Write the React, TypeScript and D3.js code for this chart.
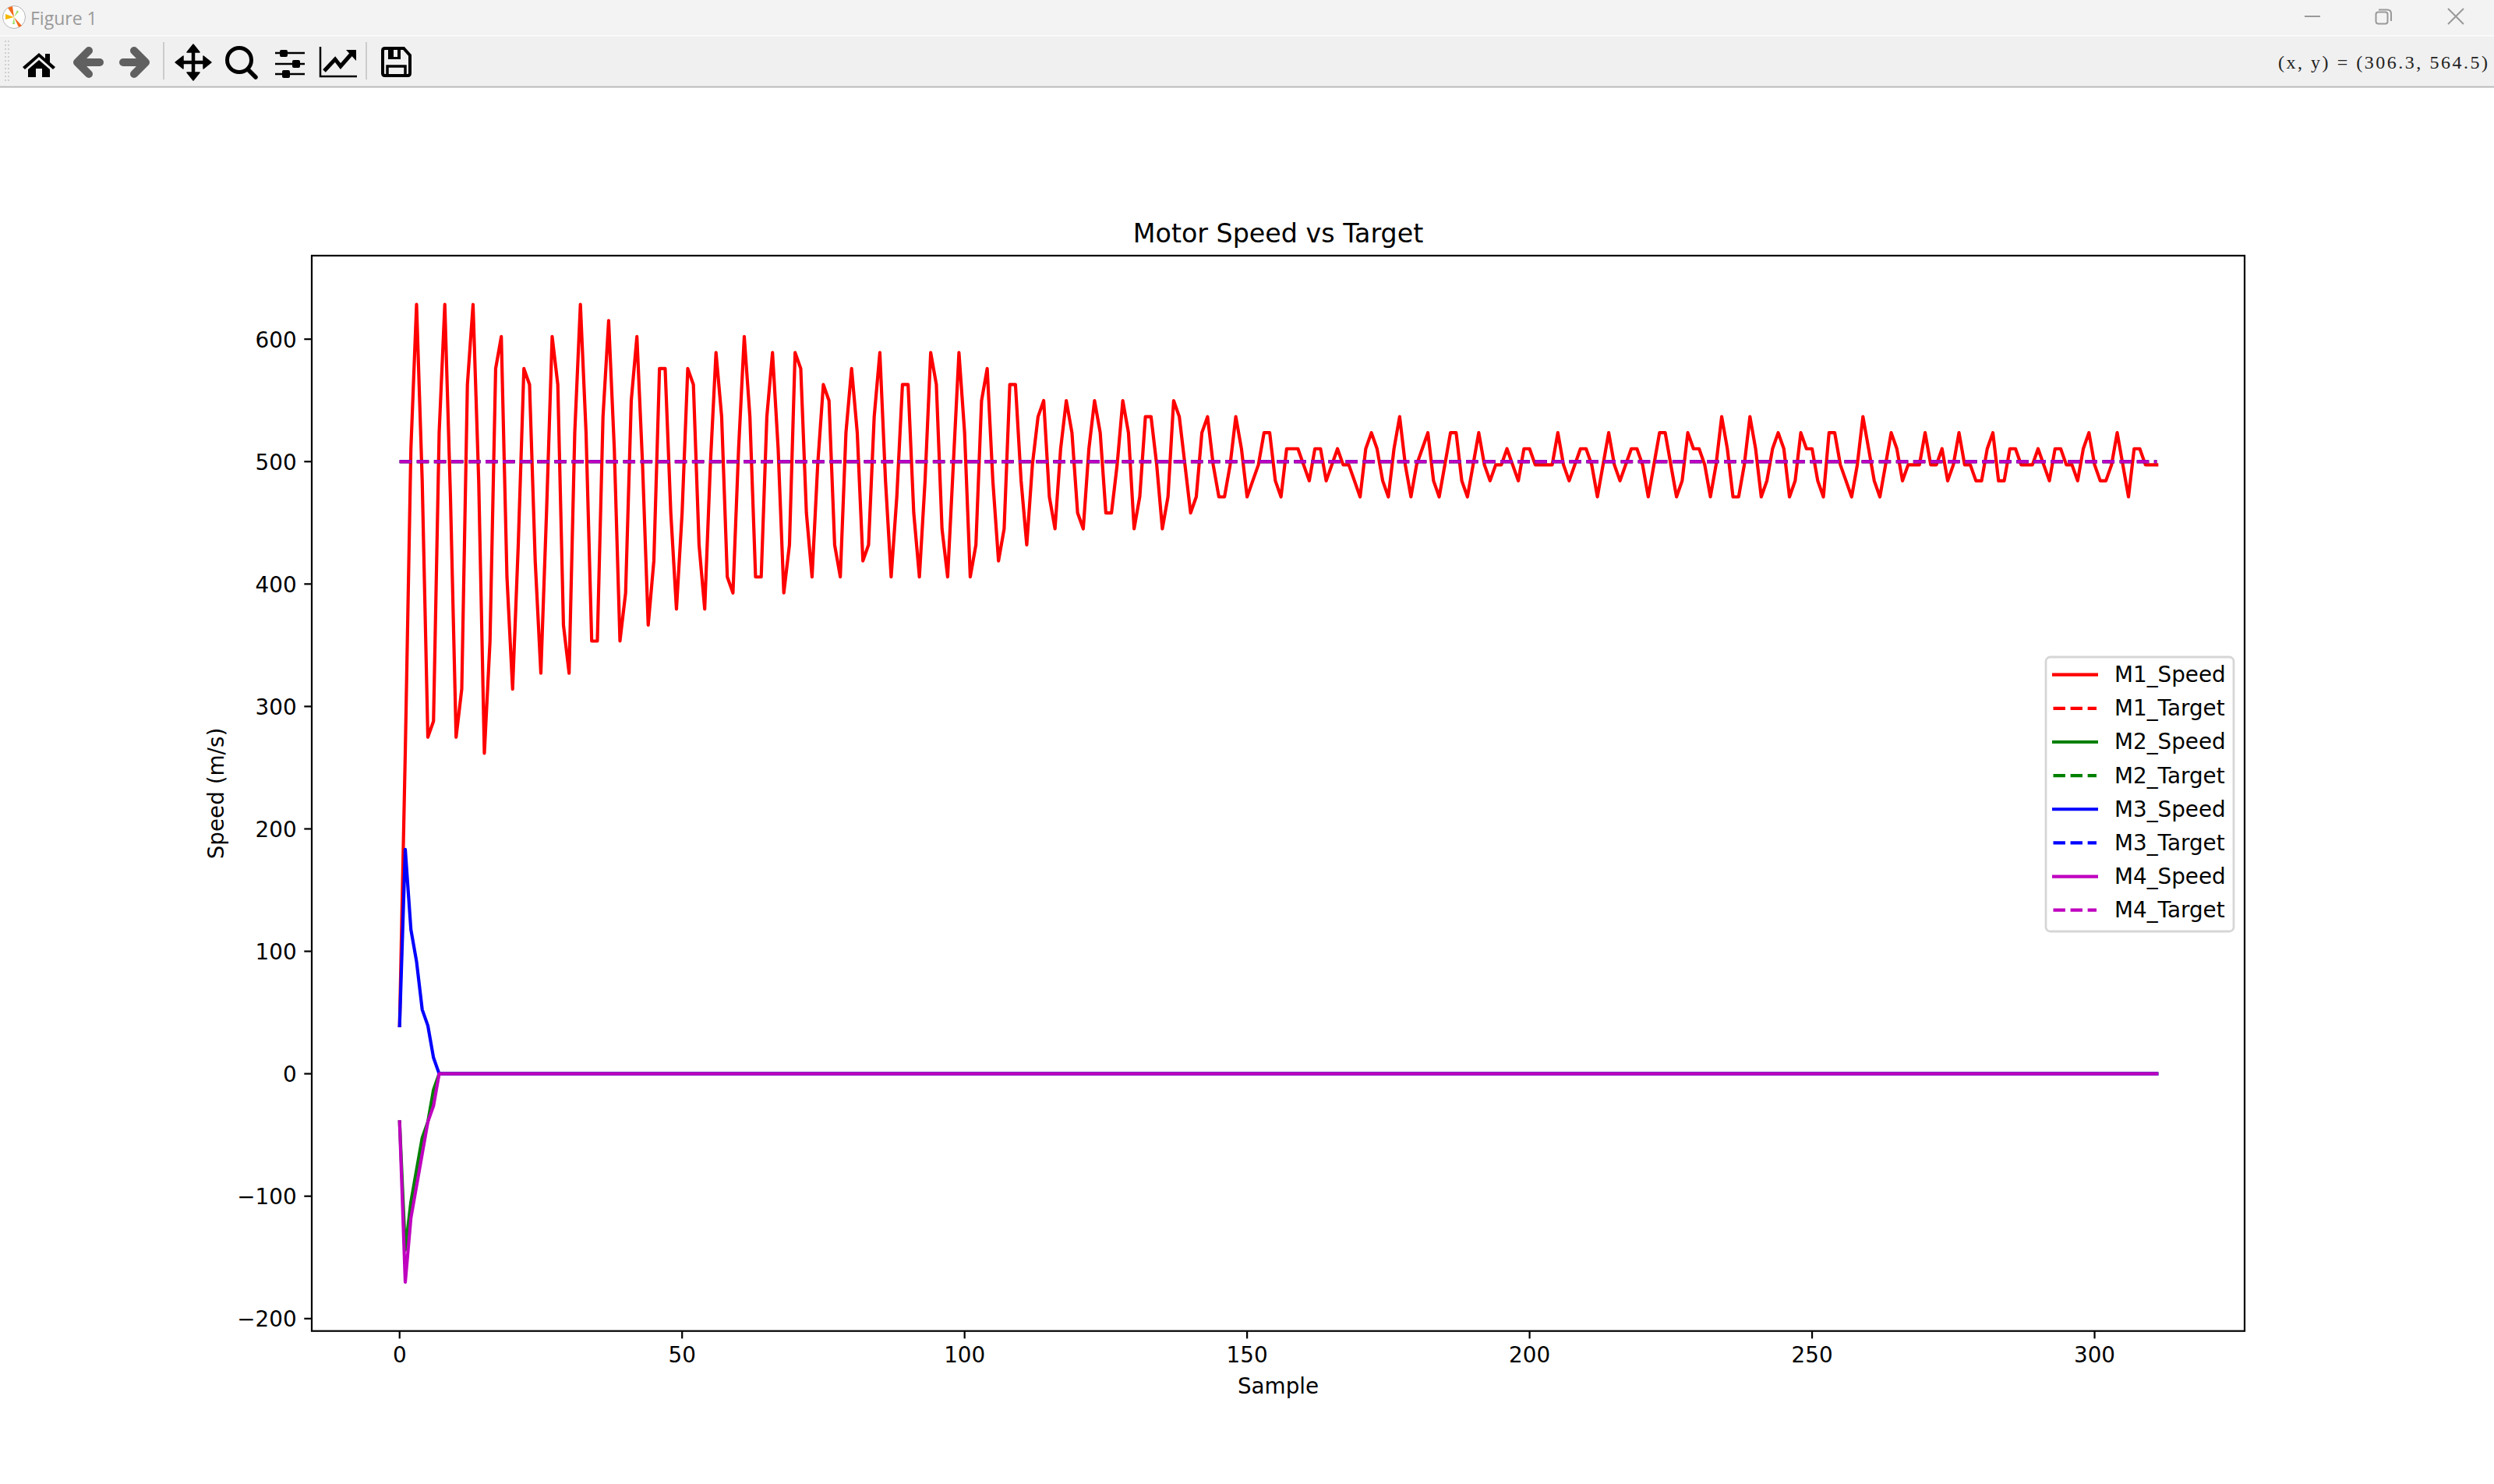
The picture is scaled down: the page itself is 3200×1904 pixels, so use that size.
import { useEffect, useRef } from "react";
import * as d3 from "d3";

const m1Speed = [
  39.3, 261.8, 510.5, 628.3, 484.3, 274.9, 288.0, 523.6, 628.3, 471.2,
  274.9, 314.2, 562.9, 628.3, 484.3, 261.8, 353.4, 576.0, 602.1, 405.8,
  314.2, 432.0, 576.0, 562.9, 418.9, 327.2, 458.1, 602.1, 562.9, 366.5,
  327.2, 523.6, 628.3, 523.6, 353.4, 353.4, 536.7, 615.2, 510.5, 353.4,
  392.7, 549.8, 602.1, 497.4, 366.5, 418.9, 576.0, 576.0, 458.1, 379.6,
  458.1, 576.0, 562.9, 432.0, 379.6, 497.4, 589.0, 536.7, 405.8, 392.7,
  510.5, 602.1, 536.7, 405.8, 405.8, 536.7, 589.0, 510.5, 392.7, 432.0,
  589.0, 576.0, 458.1, 405.8, 497.4, 562.9, 549.8, 432.0, 405.8, 523.6,
  576.0, 523.6, 418.9, 432.0, 536.7, 589.0, 484.3, 405.8, 471.2, 562.9,
  562.9, 458.1, 405.8, 484.3, 589.0, 562.9, 445.1, 405.8, 497.4, 589.0,
  523.6, 405.8, 432.0, 549.8, 576.0, 484.3, 418.9, 445.1, 562.9, 562.9,
  484.3, 432.0, 497.4, 536.7, 549.8, 471.2, 445.1, 510.5, 549.8, 523.6,
  458.1, 445.1, 510.5, 549.8, 523.6, 458.1, 458.1, 497.4, 549.8, 523.6,
  445.1, 471.2, 536.7, 536.7, 497.4, 445.1, 471.2, 549.8, 536.7, 497.4,
  458.1, 471.2, 523.6, 536.7, 497.4, 471.2, 471.2, 497.4, 536.7, 510.5,
  471.2, 484.3, 497.4, 523.6, 523.6, 484.3, 471.2, 510.5, 510.5, 510.5,
  497.4, 484.3, 510.5, 510.5, 484.3, 497.4, 510.5, 497.4, 497.4, 484.3,
  471.2, 510.5, 523.6, 510.5, 484.3, 471.2, 510.5, 536.7, 497.4, 471.2,
  497.4, 510.5, 523.6, 484.3, 471.2, 497.4, 523.6, 523.6, 484.3, 471.2,
  497.4, 523.6, 497.4, 484.3, 497.4, 497.4, 510.5, 497.4, 484.3, 510.5,
  510.5, 497.4, 497.4, 497.4, 497.4, 523.6, 497.4, 484.3, 497.4, 510.5,
  510.5, 497.4, 471.2, 497.4, 523.6, 497.4, 484.3, 497.4, 510.5, 510.5,
  497.4, 471.2, 497.4, 523.6, 523.6, 497.4, 471.2, 484.3, 523.6, 510.5,
  510.5, 497.4, 471.2, 497.4, 536.7, 510.5, 471.2, 471.2, 497.4, 536.7,
  510.5, 471.2, 484.3, 510.5, 523.6, 510.5, 471.2, 484.3, 523.6, 510.5,
  510.5, 484.3, 471.2, 523.6, 523.6, 497.4, 484.3, 471.2, 497.4, 536.7,
  510.5, 484.3, 471.2, 497.4, 523.6, 510.5, 484.3, 497.4, 497.4, 497.4,
  523.6, 497.4, 497.4, 510.5, 484.3, 497.4, 523.6, 497.4, 497.4, 484.3,
  484.3, 510.5, 523.6, 484.3, 484.3, 510.5, 510.5, 497.4, 497.4, 497.4,
  510.5, 497.4, 484.3, 510.5, 510.5, 497.4, 497.4, 484.3, 510.5, 523.6,
  497.4, 484.3, 484.3, 497.4, 523.6, 497.4, 471.2, 510.5, 510.5, 497.4, 497.4, 497.4
];

// the other three motors stop at sample 7 and stay at zero to the end
const stopSamples = [0, 1, 2, 3, 4, 5, 6, 7, 311];
const m2Speed = [-39.3, -144.0, -104.7, -78.5, -52.4, -39.3, -13.1, 0, 0];
const m3Speed = [39.3, 183.3, 117.8, 91.6, 52.4, 39.3, 13.1, 0, 0];
const m4Speed = [-39.3, -170.2, -117.8, -91.6, -65.4, -39.3, -26.2, 0, 0];

const targetSamples = [0, 311];
const targetSpeed = [500, 500];

const xTicks = [0, 50, 100, 150, 200, 250, 300];
const yTicks = [-200, -100, 0, 100, 200, 300, 400, 500, 600];

const seriesNames = ["M1_Speed", "M1_Target", "M2_Speed", "M2_Target", "M3_Speed", "M3_Target", "M4_Speed", "M4_Target"];
const seriesColors = ["#ff0000", "#ff0000", "#008000", "#008000", "#0000ff", "#0000ff", "#bf00bf", "#bf00bf"];

const FONT = "'DejaVu Sans'";
const LW = 4.17;
const DASH = "15.4 6.67";

function Toolbar() {
  const ink = "#000";
  const grey = "#606060";
  return (
    <g>
      <rect x={0} y={0} width={3200} height={45} fill="#f3f3f3" />
      <rect x={0} y={45} width={3200} height={1.5} fill="#fbfbfb" />
      <rect x={0} y={46.5} width={3200} height={64} fill="#f0f0f0" />
      <rect x={0} y={110.5} width={3200} height={2} fill="#b9b9b9" />

      {/* app logo */}
      <circle cx={18} cy={22} r={14.5} fill="#fff" stroke="#b5b5b5" strokeWidth={1} />
      <path d="M18 22 L10 10 L16 8 Z M18 22 L28 33 L24 35 Z" fill="#f26a1b" />
      <path d="M18 22 L7 18 L7 25 Z" fill="#f5b800" />
      <path d="M18 22 L22 13 L24 15 Z M18 22 L16 31 L19 31 Z" fill="#9be26b" />
      <text x={39} y={32} fontFamily="'Open Sans'" fontSize={23} fill="#9a9a9a">Figure 1</text>

      {/* window buttons */}
      <rect x={2957} y={20} width={20} height={2} fill="#999" />
      <rect x={3048.5} y={15.5} width={15} height={15} rx={3} fill="none" stroke="#999" strokeWidth={2} />
      <path d="M3052 12.5 H3063 Q3068 12.5 3068 17.5 V27" fill="none" stroke="#999" strokeWidth={2} />
      <path d="M3141 11 L3161 31 M3161 11 L3141 31" stroke="#999" strokeWidth={2} />

      {/* gripper */}
      <path d="M7 52 V105 M11 52 V105" stroke="#cfcfcf" strokeWidth={2} strokeDasharray="2 3" />

      {/* home */}
      <path d="M29 86 L50 68 L58 75 V69 H64 V80 L71 86 L68 89 L50 73 L32 89 Z" fill={ink} />
      <path d="M36 89 L50 77 L64 89 V99 H54 V88 H46 V99 H36 Z" fill={ink} />
      {/* back, forward */}
      <path d="M128 80 H100 M114 65 L99 80 L114 95" fill="none" stroke={grey} strokeWidth={10} strokeLinecap="round" strokeLinejoin="round" />
      <path d="M158 80 H186 M172 65 L187 80 L172 95" fill="none" stroke={grey} strokeWidth={10} strokeLinecap="round" strokeLinejoin="round" />
      {/* move */}
      <path d="M248 62 V98 M230 80 H266" stroke={ink} strokeWidth={4.5} />
      <path d="M248 57 L256 67 H240 Z M248 103 L256 93 H240 Z M225 80 L235 72 V88 Z M271 80 L261 72 V88 Z" fill={ink} stroke={ink} strokeWidth={1.5} strokeLinejoin="round" />
      {/* zoom */}
      <circle cx={307} cy={77} r={15.5} fill="none" stroke={ink} strokeWidth={5} />
      <path d="M318 89 L328 99" stroke={ink} strokeWidth={5.5} strokeLinecap="round" />
      {/* sliders */}
      <path d="M353 68 H391 M353 82 H391 M353 95 H391" stroke={ink} strokeWidth={2.5} />
      <rect x={359} y={64} width={10} height={9} rx={2} fill={ink} />
      <rect x={375} y={77} width={10} height={10} rx={2} fill={ink} />
      <rect x={362} y={90} width={10} height={10} rx={2} fill={ink} />
      {/* edit curves */}
      <path d="M411 60 V98 H458" fill="none" stroke={ink} strokeWidth={2.5} />
      <path d="M416 91 L430 76 L437 85 L451 69" fill="none" stroke={ink} strokeWidth={5} />
      <path d="M444 64 H457 V78 Z" fill={ink} />
      {/* save */}
      <path d="M494 62 H518 L526 71 V94 Q526 97 523 97 H494 Q491 97 491 94 V65 Q491 62 494 62 Z" fill="none" stroke={ink} strokeWidth={4} />
      <rect x={498} y={62} width={16} height={14} fill={ink} />
      <rect x={505} y={64} width={5} height={9} fill="#f0f0f0" />
      <rect x={497} y={85} width={23} height={12} fill="none" stroke={ink} strokeWidth={3.5} />

      <rect x={209} y={54} width={2} height={48} fill="#cccccc" />
      <rect x={469} y={54} width={2} height={48} fill="#cccccc" />

      <text x={3192} y={88} textAnchor="end" fontFamily="'Liberation Serif'" fontSize={24} fill="#222" textLength={269}>(x, y) = (306.3, 564.5)</text>
    </g>
  );
}

export default function App() {
  const ref = useRef<SVGGElement | null>(null);

  useEffect(() => {
    if (!ref.current) return;
    const g = d3.select(ref.current);
    g.selectAll("*").remove();

    const x = d3.scaleLinear().domain([-15.55, 326.55]).range([400, 2880]);
    const y = d3.scaleLinear().domain([-210.12, 668.22]).range([1707.7, 328]);

    const line = d3
      .line<[number, number]>()
      .x((d) => x(d[0]))
      .y((d) => y(d[1]));

    const zipped = (xs: number[], ys: number[]) => xs.map((v, i) => [v, ys[i]] as [number, number]);
    const series: [number, number][][] = [
      m1Speed.map((v, i) => [i, v] as [number, number]),
      zipped(targetSamples, targetSpeed),
      zipped(stopSamples, m2Speed),
      zipped(targetSamples, targetSpeed),
      zipped(stopSamples, m3Speed),
      zipped(targetSamples, targetSpeed),
      zipped(stopSamples, m4Speed),
      zipped(targetSamples, targetSpeed)
    ];

    series.forEach((pts, i) => {
      const dashed = i % 2 === 1;
      g.append("path")
        .attr("d", line(pts))
        .attr("fill", "none")
        .attr("stroke", seriesColors[i])
        .attr("stroke-width", LW)
        .attr("stroke-linejoin", "round")
        .attr("stroke-linecap", dashed ? "butt" : "square")
        .attr("stroke-dasharray", dashed ? DASH : null);
    });

    // axes box
    g.append("rect")
      .attr("x", 400)
      .attr("y", 328)
      .attr("width", 2480)
      .attr("height", 1379.7)
      .attr("fill", "none")
      .attr("stroke", "#000")
      .attr("stroke-width", 2.22);

    const xAxis = d3.axisBottom(x).tickValues(xTicks).tickSize(9.7).tickPadding(9.7).offset(0);
    const yAxis = d3.axisLeft(y).tickValues(yTicks).tickSize(9.7).tickPadding(9.7).offset(0);
    const gx = g.append("g").attr("transform", "translate(0,1707.7)").call(xAxis);
    const gy = g.append("g").attr("transform", "translate(400,0)").call(yAxis);
    [gx, gy].forEach((a) => {
      a.select(".domain").remove();
      a.selectAll("line").attr("stroke", "#000").attr("stroke-width", 2.22);
      a.selectAll("text").attr("fill", "#000").attr("font-family", FONT).attr("font-size", 27.8);
    });
    gx.selectAll("text").attr("dy", "0.76em");
    gy.selectAll("text").attr("dy", "0.38em");

    const label = (t: string, tx: number, ty: number, size: number, rotate = false) =>
      g.append("text")
        .text(t)
        .attr("text-anchor", "middle")
        .attr("font-family", FONT)
        .attr("font-size", size)
        .attr("fill", "#000")
        .attr("transform", `translate(${tx},${ty})${rotate ? " rotate(-90)" : ""}`);

    label("Motor Speed vs Target", 1640, 311, 33.3);
    label("Sample", 1640, 1788, 27.8);
    label("Speed (m/s)", 286.5, 1018, 27.8, true);

    // legend
    const lg = g.append("g");
    lg.append("rect")
      .attr("x", 2625)
      .attr("y", 843)
      .attr("width", 241)
      .attr("height", 352)
      .attr("rx", 5.6)
      .attr("fill", "#fff")
      .attr("fill-opacity", 0.8)
      .attr("stroke", "#d6d6d6")
      .attr("stroke-width", 2.78);
    const rowY = d3.scaleLinear().domain([0, 7]).range([865.7, 1167.7]);
    seriesNames.forEach((name, i) => {
      const dashed = i % 2 === 1;
      lg.append("line")
        .attr("x1", dashed ? 2634.5 : 2633)
        .attr("x2", dashed ? 2690 : 2692)
        .attr("y1", rowY(i))
        .attr("y2", rowY(i))
        .attr("stroke", seriesColors[i])
        .attr("stroke-width", LW)
        .attr("stroke-dasharray", dashed ? DASH : null);
      lg.append("text")
        .text(name)
        .attr("x", 2713)
        .attr("y", rowY(i) + 9.5)
        .attr("font-family", FONT)
        .attr("font-size", 27.8)
        .attr("fill", "#000");
    });
  }, []);

  return (
    <svg
      width={3200}
      height={1904}
      viewBox="0 0 3200 1904"
      style={{ position: "absolute", left: 0, top: 0, display: "block", background: "#fff" }}
    >
      <Toolbar />
      <g ref={ref} />
    </svg>
  );
}
